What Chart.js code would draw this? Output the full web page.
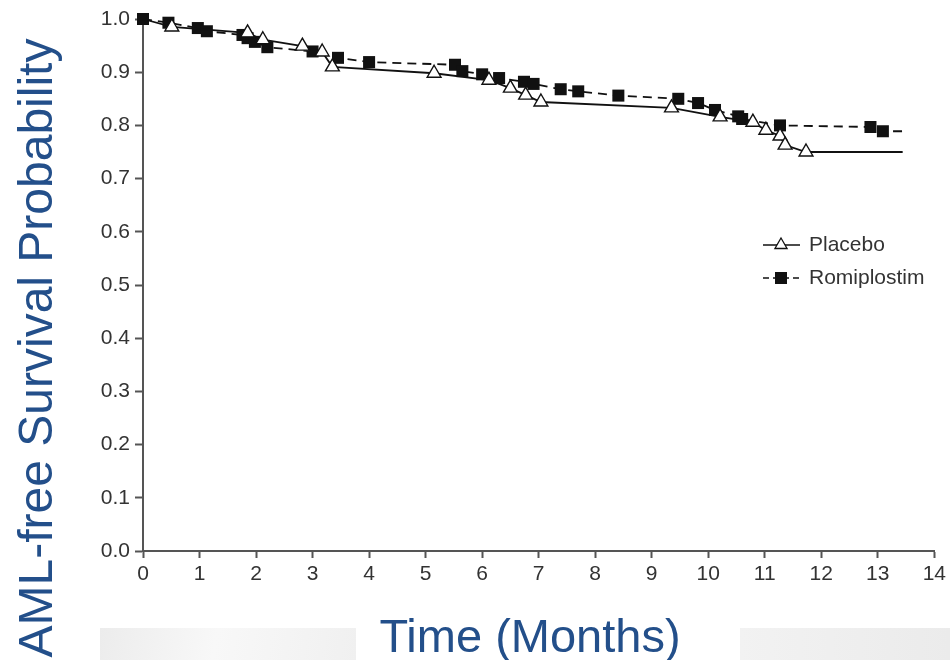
<!DOCTYPE html>
<html><head><meta charset="utf-8">
<script src="https://cdn.jsdelivr.net/npm/chart.js@4.4.1/dist/chart.umd.min.js"></script>
<style>
html,body{margin:0;padding:0;background:#fff;}
#wrap{position:relative;width:950px;height:660px;overflow:hidden;background:#fff;}
.bg1{position:absolute;left:100px;top:628px;width:256px;height:32px;background:linear-gradient(100deg,#ececec,#f8f8f8 45%,#f0f0f0);}
.bg2{position:absolute;left:740px;top:628px;width:210px;height:32px;background:linear-gradient(90deg,#f2f2f2,#ebebeb);}
canvas{position:absolute;left:0;top:0;}
</style></head><body>
<div id="wrap"><div class="bg1"></div><div class="bg2"></div><canvas id="c" width="950" height="660"></canvas></div>
<script>
// ---- data ----
const placeboMonths = [0, 0.51, 1.85, 2.12, 2.82, 3.17, 3.35, 5.15, 6.12, 6.5, 6.77, 7.04, 9.35, 10.21, 10.79, 11.02, 11.27, 11.36, 11.73, 13.44];
const placeboSurv   = [1.0, 0.985, 0.974, 0.961, 0.949, 0.938, 0.91, 0.898, 0.885, 0.87, 0.857, 0.844, 0.833, 0.816, 0.806, 0.791, 0.78, 0.763, 0.75, 0.75];
const romiMonths = [0, 0.45, 0.97, 1.13, 1.76, 1.85, 1.98, 2.2, 3.0, 3.45, 4.0, 5.52, 5.65, 6.0, 6.3, 6.74, 6.91, 7.39, 7.7, 8.41, 9.47, 9.82, 10.12, 10.53, 10.6, 11.27, 12.87, 13.09, 13.44];
const romiSurv   = [1.0, 0.993, 0.983, 0.977, 0.97, 0.964, 0.957, 0.947, 0.939, 0.927, 0.919, 0.914, 0.902, 0.896, 0.889, 0.882, 0.878, 0.868, 0.864, 0.856, 0.85, 0.842, 0.829, 0.817, 0.812, 0.8, 0.797, 0.789, 0.789];
const seriesNames = ['Placebo', 'Romiplostim'];
const xTicks = [0,1,2,3,4,5,6,7,8,9,10,11,12,13,14];
const yTicks = [0,0.1,0.2,0.3,0.4,0.5,0.6,0.7,0.8,0.9,1.0];
const yTitle = 'AML-free Survival Probability';
const xTitle = 'Time (Months)';

const toXY = (xs, ys) => xs.map((x, i) => ({x: x, y: ys[i]}));
const plRadius = placeboMonths.map((_, i) => (i === 0 || i === placeboMonths.length - 1) ? 0 : 8);
const roRadius = romiMonths.map((_, i) => (i === romiMonths.length - 1) ? 0 : 8.5);

const FONT = '"Liberation Sans", Arial, Helvetica, sans-serif';
const AXIS = '#555';
const TXT = '#333';
const TITLE = '#234f8a';

const overlay = {
  id: 'overlay',
  afterDraw(chart) {
    const ctx = chart.ctx;
    ctx.save();
    // titles
    ctx.fillStyle = TITLE;
    ctx.font = '47px ' + FONT;
    ctx.textAlign = 'center';
    ctx.textBaseline = 'alphabetic';
    ctx.fillText(xTitle, 530, 652);
    ctx.save();
    ctx.translate(52, 348);
    ctx.rotate(-Math.PI / 2);
    ctx.font = '48px ' + FONT;
    ctx.fillText(yTitle, 0, 0);
    ctx.restore();
    // legend
    const items = [
      {y: 245, dash: [], style: 'tri'},
      {y: 278, dash: [6, 4], style: 'sq'}
    ];
    items.forEach((it, i) => {
      ctx.strokeStyle = '#111';
      ctx.lineWidth = 1.6;
      ctx.setLineDash(it.dash);
      ctx.beginPath();
      ctx.moveTo(763, it.y); ctx.lineTo(800, it.y);
      ctx.stroke();
      ctx.setLineDash([]);
      const cx = 781;
      if (it.style === 'tri') {
        const r = 7;
        ctx.beginPath();
        ctx.moveTo(cx, it.y - r);
        ctx.lineTo(cx + r * 0.866, it.y + r * 0.5);
        ctx.lineTo(cx - r * 0.866, it.y + r * 0.5);
        ctx.closePath();
        ctx.fillStyle = '#fff'; ctx.fill();
        ctx.strokeStyle = '#111'; ctx.lineWidth = 1.3; ctx.stroke();
      } else {
        ctx.fillStyle = '#111';
        ctx.fillRect(cx - 6, it.y - 6, 12, 12);
      }
      ctx.fillStyle = TXT;
      ctx.font = '21px ' + FONT;
      ctx.textAlign = 'left';
      ctx.textBaseline = 'middle';
      ctx.fillText(seriesNames[i], 809, it.y);
    });
    ctx.restore();
  }
};

new Chart(document.getElementById('c'), {
  type: 'line',
  data: {
    datasets: [
      {
        label: seriesNames[0],
        data: toXY(placeboMonths, placeboSurv),
        borderColor: '#111',
        borderWidth: 1.8,
        pointStyle: 'triangle',
        pointRadius: plRadius,
        pointBackgroundColor: '#fff',
        pointBorderColor: '#111',
        pointBorderWidth: 1.4,
        tension: 0,
        fill: false,
        clip: false,
        order: 1
      },
      {
        label: seriesNames[1],
        data: toXY(romiMonths, romiSurv),
        borderColor: '#111',
        borderWidth: 1.8,
        borderDash: [9, 6],
        pointStyle: 'rect',
        pointRadius: roRadius,
        pointBackgroundColor: '#111',
        pointBorderColor: '#111',
        pointBorderWidth: 0,
        tension: 0,
        fill: false,
        clip: false,
        order: 2
      }
    ]
  },
  options: {
    responsive: false,
    devicePixelRatio: 1,
    animation: false,
    layout: {padding: {top: 19, right: 13, left: 0, bottom: 0}},
    plugins: {legend: {display: false}, tooltip: {enabled: false}, title: {display: false}},
    scales: {
      x: {
        type: 'linear', min: 0, max: 14,
        afterBuildTicks: (s) => { s.ticks = xTicks.map(v => ({value: v})); },
        afterFit: (s) => { s.height = 109; },
        ticks: {color: TXT, font: {family: FONT, size: 21}, padding: 4, maxRotation: 0, autoSkip: false, callback: v => String(v)},
        grid: {drawOnChartArea: false, drawTicks: true, tickLength: 7, tickColor: AXIS, tickWidth: 2},
        border: {color: AXIS, width: 2}
      },
      y: {
        type: 'linear', min: 0, max: 1,
        afterBuildTicks: (s) => { s.ticks = yTicks.map(v => ({value: v})); },
        afterFit: (s) => { s.width = 143; },
        ticks: {color: TXT, font: {family: FONT, size: 21}, padding: 5, autoSkip: false, callback: v => Number(v).toFixed(1)},
        grid: {drawOnChartArea: false, drawTicks: true, tickLength: 8, tickColor: AXIS, tickWidth: 2},
        border: {color: AXIS, width: 2}
      }
    }
  },
  plugins: [overlay]
});
</script>
</body></html>
